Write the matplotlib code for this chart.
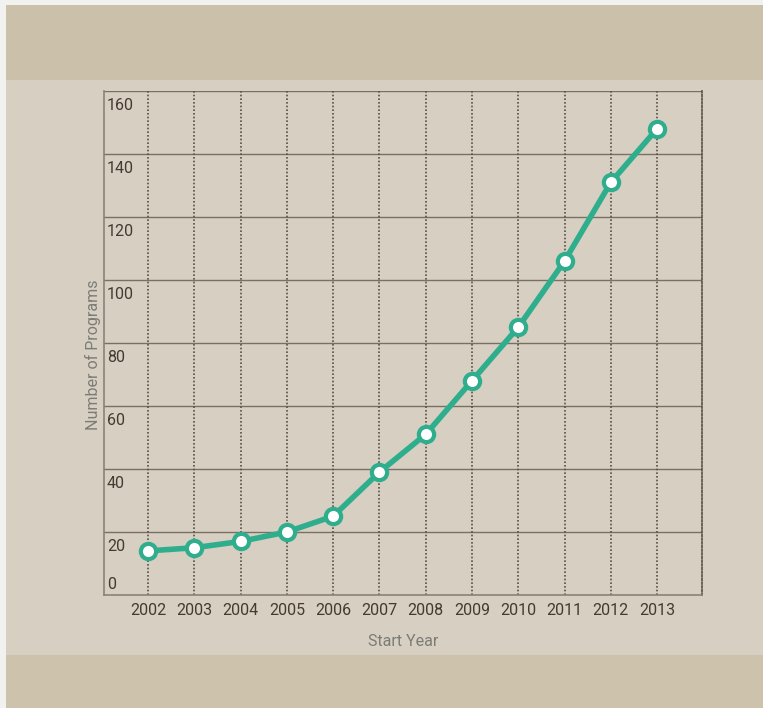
from matplotlib import pyplot as plt
from matplotlib.patches import Rectangle
import matplotlib.transforms as mtransforms
import numpy as np

years = ['2002', '2003', '2004', '2005', '2006', '2007',
         '2008', '2009', '2010', '2011', '2012', '2013']
programs = [14, 15, 17, 20, 25, 39, 51, 68, 85, 106, 131, 148]
y_ticks = [0, 20, 40, 60, 80, 100, 120, 140, 160]

teal = '#2eae8d'
tick_color = '#463a30'
label_color = '#7c7c76'
grid_color = '#7a6f62'

plt.rcParams['font.family'] = ['Roboto', 'DejaVu Sans']

fig = plt.figure(figsize=(7.63, 7.08), dpi=100)
fig.patch.set_facecolor('#f1f1f0')

W, H = 763, 708
# backdrop bands: top strip, main panel, bottom strip
fig.patches.append(Rectangle((6 / W, 1 - 80 / H), 1, 75 / H, transform=fig.transFigure,
                             facecolor='#cbc1aa', edgecolor='none', zorder=-5))
fig.patches.append(Rectangle((6 / W, 1 - 655 / H), 1, 575 / H, transform=fig.transFigure,
                             facecolor='#d6cfc2', edgecolor='none', zorder=-5))
fig.patches.append(Rectangle((6 / W, 0), 1, 53 / H, transform=fig.transFigure,
                             facecolor='#cdc3ad', edgecolor='none', zorder=-5))

ax = fig.add_axes([104 / W, 1 - 595 / H, (702 - 104) / W, (595 - 91) / H])
ax.set_facecolor('none')
ax.set_zorder(2)

x = np.arange(len(years))
ax.set_xlim(-0.95, len(years) - 0.03)
ax.set_ylim(0, 160)

# grid
for v in y_ticks[1:]:
    ax.axhline(v, color=grid_color, lw=1, zorder=1)
for xi in x:
    ax.axvline(xi, color='#5a5046', lw=1.2, ls=(0, (1, 1.2)), zorder=1)

for s in ['left', 'bottom']:
    ax.spines[s].set_color('#8c8275')
    ax.spines[s].set_linewidth(1.2)
ax.spines['top'].set_visible(False)
ax.spines['right'].set_color('#5a5046')
ax.spines['right'].set_linestyle((0, (1, 1.2)))
ax.spines['right'].set_linewidth(1.2)

ax.plot(x, programs, color=teal, lw=4, zorder=3, solid_capstyle='round',
        marker='o', markersize=11, markerfacecolor='white',
        markeredgecolor=teal, markeredgewidth=3, clip_on=False)

ax.set_xticks(x)
ax.set_xticklabels(years, fontsize=11.5, color=tick_color)
ax.tick_params(axis='x', length=0, pad=6)
ax.set_yticks([])

trans = mtransforms.blended_transform_factory(ax.transAxes, ax.transData)
for v in y_ticks:
    if v == 0:
        ax.text(0.005, 0.8, str(v), transform=trans, ha='left', va='bottom',
                fontsize=11.5, color=tick_color)
    else:
        ax.text(0.005, v - 2.2, str(v), transform=trans, ha='left', va='top',
                fontsize=11.5, color=tick_color)

fig.text(403 / W, 1 - 641 / H, 'Start Year', ha='center', va='center',
         fontsize=11.5, color=label_color)
fig.text(93 / W, 1 - 355 / H, 'Number of Programs', ha='center', va='center',
         rotation=90, fontsize=11.5, color=label_color)

plt.savefig('out.png', dpi=100, facecolor=fig.get_facecolor())
